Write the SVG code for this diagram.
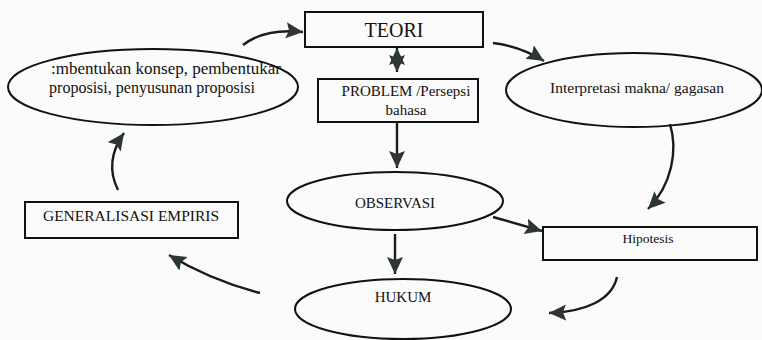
<svg xmlns="http://www.w3.org/2000/svg" width="762" height="340" viewBox="0 0 762 340">
<style>
.n{fill:#fbfbfb;stroke:#111;stroke-width:2}
.c{fill:none;stroke:#1a1a1a;stroke-width:2.4;marker-end:url(#ah)}
text{font-family:"Liberation Serif","Times New Roman",serif;fill:#111;text-anchor:middle}
</style>
<defs>
<marker id="ah" markerUnits="userSpaceOnUse" markerWidth="20" markerHeight="18" refX="17" refY="8" orient="auto">
<path d="M0,0 L17,8 L0,16 L3,8 z" fill="#2e3535"/>
</marker>
</defs>
<rect width="762" height="340" fill="#fbfbfb"/>
<g id="teori"><rect class="n" x="305" y="12" width="178" height="35"/><text x="394" y="37" font-size="20">TEORI</text></g>
<g id="problem"><rect class="n" x="318" y="79" width="160" height="43"/><text x="406" y="96" font-size="15">PROBLEM /Persepsi</text><text x="406" y="115" font-size="15">bahasa</text></g>
<g id="konsep"><ellipse class="n" cx="153" cy="87" rx="145" ry="38"/><text x="166" y="74" font-size="17">:mbentukan konsep, pembentukar</text><text x="152" y="93" font-size="16">proposisi, penyusunan proposisi</text></g>
<g id="interpretasi"><ellipse class="n" cx="634" cy="90" rx="128" ry="37"/><text x="637" y="93" font-size="15.5">Interpretasi makna/ gagasan</text></g>
<g id="observasi"><ellipse class="n" cx="395" cy="201" rx="108" ry="29"/><text x="395" y="208" font-size="15">OBSERVASI</text></g>
<g id="hipotesis"><rect class="n" x="543" y="227" width="214" height="33"/><text x="648" y="243" font-size="13.5">Hipotesis</text></g>
<g id="hukum"><ellipse class="n" cx="403" cy="309" rx="108" ry="30"/><text x="403" y="302" font-size="15">HUKUM</text></g>
<g id="generalisasi"><rect class="n" x="25" y="202" width="213" height="36"/><text x="131" y="221" font-size="15.5">GENERALISASI EMPIRIS</text></g>
<g id="connectors">
<path class="c" d="M243,45 Q265,28 303,32"/>
<path class="c" d="M493,43 Q520,46 544,61"/>
<path class="c" d="M397,61 L397,48"/>
<path class="c" d="M397,59 L397,72"/>
<path class="c" d="M397,123 L397,168"/>
<path class="c" d="M670,124 C678,150 672,185 648,209"/>
<path class="c" d="M493,217 L542,231"/>
<path class="c" d="M395,234 L395,274"/>
<path class="c" d="M617,277 C612,300 585,312 549,313"/>
<path class="c" d="M260,293 Q210,280 169,255"/>
<path class="c" d="M118,190 C108,170 112,150 124,133"/>
</g>
</svg>
